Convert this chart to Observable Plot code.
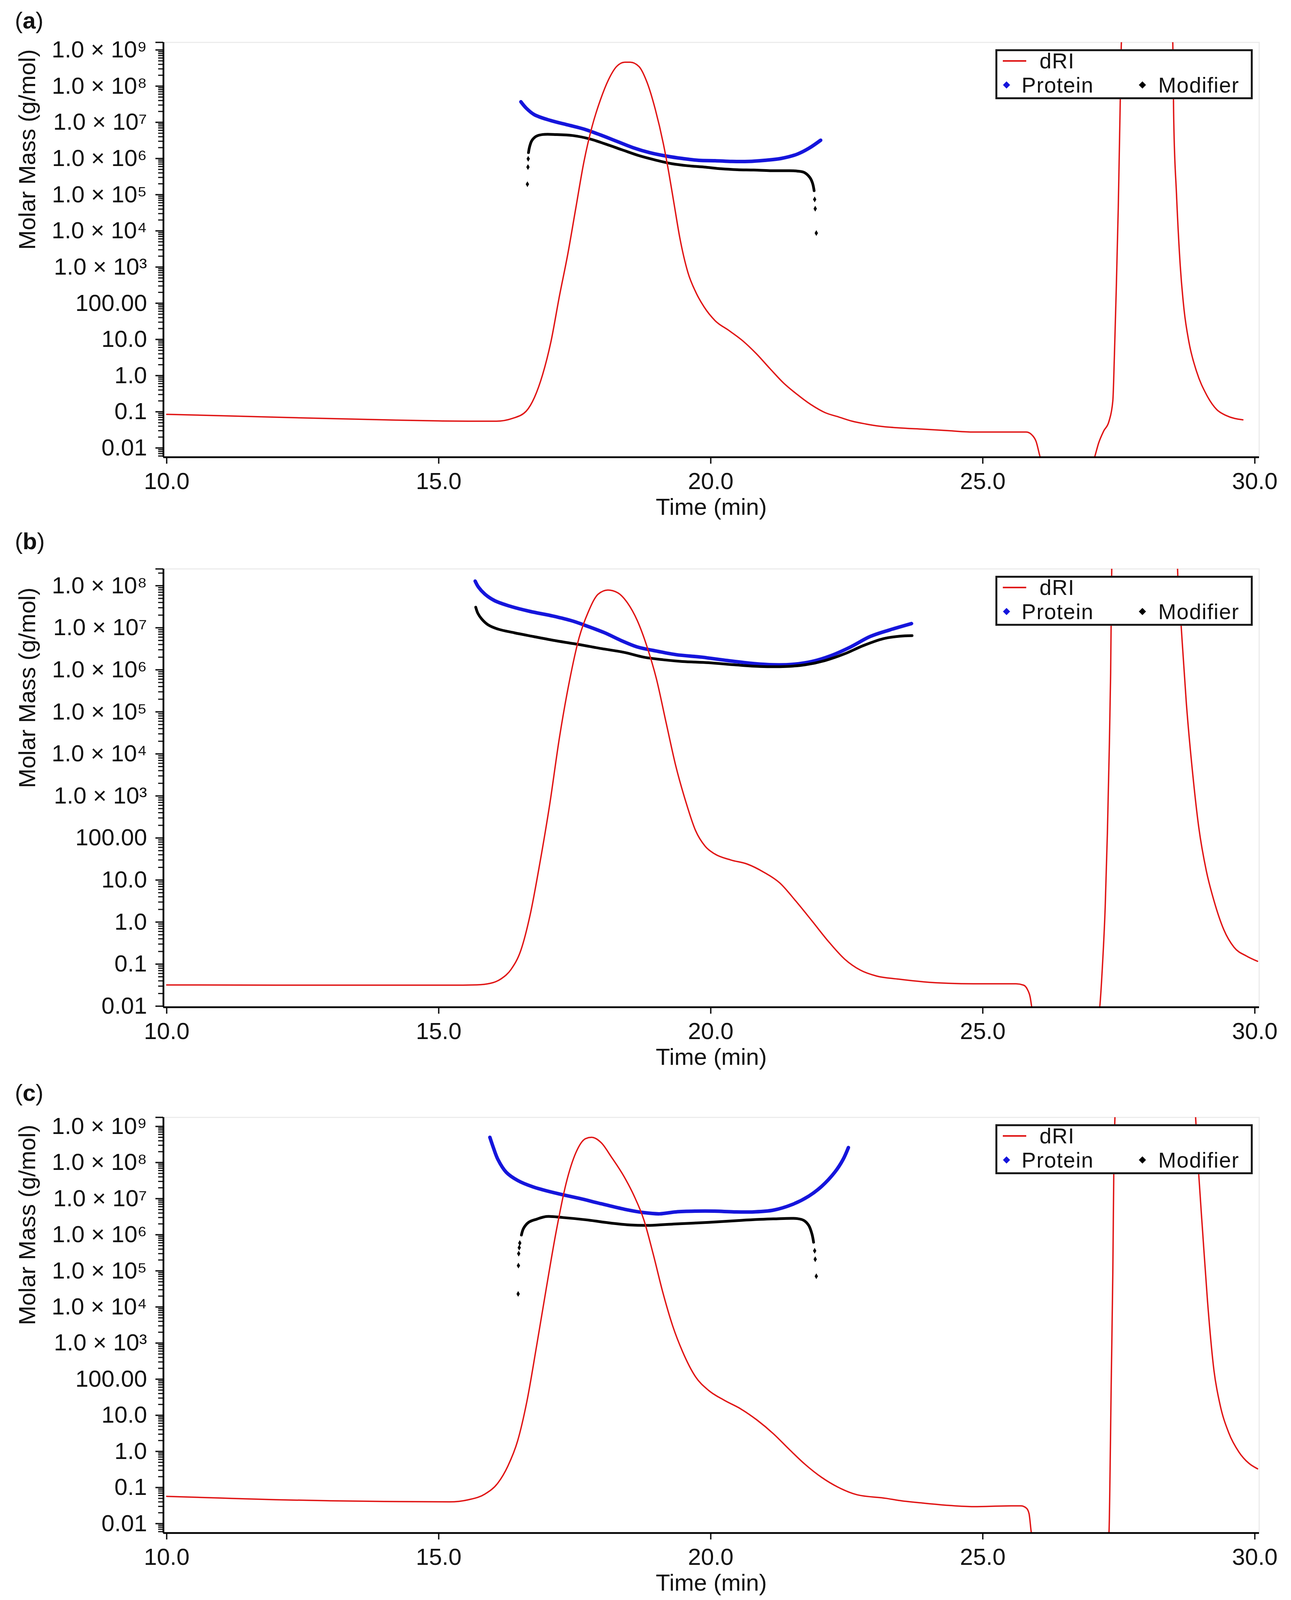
<!DOCTYPE html>
<html>
<head>
<meta charset="utf-8">
<script src="https://cdn.jsdelivr.net/npm/d3@7"></script>
<script src="https://cdn.jsdelivr.net/npm/@observablehq/plot@0.6"></script>
<style>
  html, body { margin: 0; padding: 0; background: #fff; overflow: hidden; }
  #page { position: relative; width: 3306px; height: 4096px; background: #fff; overflow: hidden;
          font-family: "Liberation Sans", Arial, sans-serif; color: #111; }
  .panel { position: absolute; left: 0; width: 3306px; }
  .tag { position: absolute; left: 38px; font-size: 60px; line-height: 60px; white-space: nowrap; }
  .tag b { font-weight: bold; }
  .legend { position: absolute; left: 2549px; width: 659px; height: 128px; box-sizing: border-box;
            border: 5px solid #1a1a1a; background: #fff; }
  .legend .txt { position: absolute; font-size: 55px; line-height: 55px; letter-spacing: 1.5px; white-space: nowrap; }
  .legend .ln { position: absolute; left: 14px; width: 60px; height: 4px; top: 23px; }
  .legend .dia { position: absolute; width: 13px; height: 13px; transform: rotate(45deg); }
</style>
</head>
<body>
<div id="page"></div>
<script>
// ---------------- data (time in min, value on the molar-mass log axis) ----------------
const X_TICKS = [10, 15, 20, 25, 30];
const X_TICK_LABELS = ["10.0", "15.0", "20.0", "25.0", "30.0"];
const Y_TICKS = [0.01, 0.1, 1, 10, 100, 1e3, 1e4, 1e5, 1e6, 1e7, 1e8, 1e9];
const Y_TICK_LABELS = ["0.01", "0.1", "1.0", "10.0", "100.00", "1.0 × 10³", "1.0 × 10⁴",
                       "1.0 × 10⁵", "1.0 × 10⁶", "1.0 × 10⁷", "1.0 × 10⁸", "1.0 × 10⁹"];
const SERIES = ["dRI", "Protein", "Modifier"];
const PANEL_TAGS = ["a", "b", "c"];

// Panel (a)
const dRI_a = [[10.0,0.085],[11.0,0.078],[12.0,0.071],[13.0,0.065],[14.0,0.060],[15.0,0.056],[15.55,0.055],
  [16.06,0.055],[16.36,0.066],[16.61,0.105],[16.76,0.25],[16.91,1.07],[17.06,8.3],[17.22,162],[17.37,2190],
  [17.52,4.3e4],[17.67,8.3e5],[17.82,7.8e6],[17.97,4.1e7],[18.12,1.5e8],[18.27,3.5e8],[18.42,4.6e8],[18.52,4.6e8],
  [18.68,3.5e8],[18.83,1.26e8],[18.98,2.3e7],[19.13,2.5e6],[19.23,4.0e5],[19.33,5.1e4],[19.43,6600],[19.58,710],
  [19.73,195],[19.88,78],[20.08,33],[20.34,17.4],[20.59,9.1],[20.84,4.0],[21.09,1.55],[21.34,0.62],[21.59,0.30],
  [21.85,0.155],[22.10,0.095],[22.35,0.072],[22.60,0.055],[22.85,0.046],[23.10,0.040],[23.45,0.036],[23.91,0.033],
  [24.37,0.030],[24.83,0.0275],[25.29,0.0275],[25.80,0.0275],[25.91,0.0224],[25.98,0.0151],[26.05,0.0059],
  [26.15,0.002],[26.95,0.002],[27.06,0.0059],[27.13,0.0138],[27.22,0.029],[27.32,0.055],[27.39,0.20],[27.42,4.0],
  [27.45,162],[27.49,4.3e4],[27.52,1.1e7],[27.55,2e9],[27.7,1e11],[28.3,1e11],[28.49,2e9],[28.51,1.1e7],
  [28.56,1.07e5],[28.63,1050],[28.70,65],[28.79,8.3],[28.93,1.29],[29.11,0.30],[29.30,0.115],[29.48,0.078],[29.78,0.060]];
const protein_a = [[16.51,3.7e7],[16.61,2.45e7],[16.76,1.62e7],[17.06,1.12e7],[17.37,8.5e6],[17.67,6.5e6],
  [17.97,4.5e6],[18.27,3.0e6],[18.57,2.0e6],[18.88,1.45e6],[19.18,1.17e6],[19.48,1.0e6],[19.78,8.9e5],[20.08,8.7e5],
  [20.39,8.3e5],[20.69,8.3e5],[20.99,8.9e5],[21.29,1.0e6],[21.59,1.32e6],[21.80,1.9e6],[22.02,3.2e6]];
const modifier_a = [[16.65,1.45e6],[16.67,2.1e6],[16.71,3.1e6],[16.79,4.1e6],[16.91,4.6e6],[17.16,4.6e6],
  [17.47,4.3e6],[17.77,3.5e6],[18.07,2.5e6],[18.37,1.74e6],[18.68,1.2e6],[18.98,9.1e5],[19.28,7.2e5],[19.58,6.3e5],
  [19.88,5.8e5],[20.19,5.2e5],[20.49,4.9e5],[20.79,4.8e5],[21.09,4.6e5],[21.39,4.6e5],[21.59,4.5e5],[21.72,4.1e5],
  [21.82,3.0e5],[21.87,2.1e5],[21.90,1.29e5]];
const modifierEnds_a = [[16.63,1.95e5],[16.64,5.8e5],[16.645,9.8e5],[21.91,7.4e4],[21.92,4.1e4],[21.94,8.7e3]];

// Panel (b)
const dRI_b = [[10.0,0.032],[12.0,0.0316],[14.0,0.0316],[15.20,0.0316],[15.70,0.0322],[15.95,0.035],[16.15,0.045],
  [16.33,0.075],[16.51,0.214],[16.68,1.48],[16.86,25.7],[17.04,630],[17.22,2.5e4],[17.40,5.2e5],[17.58,5.8e6],[17.75,2.4e7],
  [17.93,6.3e7],[18.11,7.9e7],[18.29,6.8e7],[18.47,3.9e7],[18.65,1.48e7],[18.83,3.5e6],[19.00,6.2e5],[19.18,5.5e4],
  [19.36,5000],[19.54,740],[19.72,151],[19.90,63],[20.07,42],[20.37,30],[20.67,24],[20.97,15.5],[21.27,8.5],
  [21.56,3.2],[21.86,1.07],[22.16,0.35],[22.46,0.132],[22.75,0.072],[23.05,0.052],[23.45,0.044],[23.91,0.038],
  [24.37,0.035],[24.83,0.034],[25.61,0.034],[25.75,0.0316],[25.82,0.025],[25.87,0.0166],[25.90,0.0095],
  [25.95,0.004],[27.10,0.004],[27.15,0.0095],[27.20,0.095],[27.25,2.3],[27.29,129],[27.32,6900],[27.35,8.3e5],
  [27.37,2.5e8],[27.42,1e10],[28.55,1e10],[28.58,2.5e8],[28.65,9.3e6],[28.74,1.7e5],[28.86,3200],[28.97,178],
  [29.11,16.2],[29.25,3.2],[29.43,0.66],[29.62,0.25],[29.85,0.155],[30.05,0.117]];
const protein_b = [[15.67,1.29e8],[15.73,9.3e7],[15.85,6.3e7],[16.03,4.4e7],[16.33,3.2e7],[16.68,2.45e7],
  [17.10,1.9e7],[17.46,1.45e7],[17.75,1.07e7],[18.05,7.6e6],[18.35,5.0e6],[18.65,3.5e6],[18.94,2.9e6],[19.36,2.3e6],
  [19.84,2.0e6],[20.31,1.66e6],[20.79,1.41e6],[21.15,1.32e6],[21.50,1.35e6],[21.86,1.58e6],[22.22,2.2e6],
  [22.57,3.5e6],[22.93,6.2e6],[23.29,8.9e6],[23.69,1.26e7]];
const modifier_b = [[15.68,3.1e7],[15.72,2.2e7],[15.79,1.62e7],[15.91,1.17e7],[16.09,9.3e6],[16.39,7.6e6],
  [16.74,6.2e6],[17.16,4.9e6],[17.58,4.0e6],[17.99,3.2e6],[18.41,2.6e6],[18.77,2.0e6],[19.12,1.74e6],[19.48,1.58e6],
  [19.96,1.48e6],[20.43,1.32e6],[20.91,1.2e6],[21.38,1.2e6],[21.74,1.32e6],[22.10,1.66e6],[22.46,2.4e6],
  [22.81,3.8e6],[23.17,5.5e6],[23.47,6.3e6],[23.70,6.5e6]];
const modifierEnds_b = [];

// Panel (c)
const dRI_c = [[10.0,0.057],[11.0,0.051],[12.0,0.046],[13.0,0.043],[14.0,0.041],[15.20,0.040],[15.55,0.046],
  [15.85,0.066],[16.09,0.135],[16.27,0.39],[16.45,1.95],[16.62,24],[16.80,850],[16.98,3.5e4],[17.16,1.26e6],
  [17.34,2.6e7],[17.52,1.86e8],[17.70,4.6e8],[17.81,5.0e8],[17.99,3.5e8],[18.17,1.45e8],[18.41,4.0e7],[18.59,1.2e7],
  [18.77,2.6e6],[18.94,3.0e5],[19.12,2.5e4],[19.30,3000],[19.48,590],[19.72,117],[19.96,49],[20.25,26],[20.55,15.1],
  [20.85,7.4],[21.15,3.1],[21.44,1.15],[21.74,0.43],[22.04,0.19],[22.34,0.102],[22.69,0.063],[23.23,0.050],
  [23.45,0.044],[23.91,0.037],[24.37,0.032],[24.83,0.0295],[25.52,0.031],[25.70,0.031],[25.80,0.027],[25.85,0.019],
  [25.89,0.0059],[25.95,0.002],[27.28,0.002],[27.32,0.0059],[27.34,0.33],[27.36,69],[27.39,8.7e4],[27.41,1.1e8],
  [27.43,2e9],[27.5,1e11],[28.85,1e11],[28.91,2e9],[28.97,4.5e7],[29.04,1.26e6],[29.13,1.48e4],[29.25,170],
  [29.36,20],[29.52,3.3],[29.71,0.95],[29.89,0.47],[30.05,0.33]];
const protein_c = [[15.94,5.0e8],[16.00,2.7e8],[16.09,1.2e8],[16.24,5.4e7],[16.45,3.2e7],[16.74,2.1e7],
  [17.16,1.41e7],[17.58,1.02e7],[17.99,7.2e6],[18.41,5.1e6],[18.77,4.1e6],[19.06,3.8e6],[19.36,4.3e6],[19.72,4.5e6],
  [20.07,4.5e6],[20.43,4.3e6],[20.79,4.3e6],[21.15,4.8e6],[21.50,6.9e6],[21.80,1.17e7],[22.04,2.2e7],[22.28,5.4e7],
  [22.43,1.2e8],[22.53,2.6e8]];
const modifier_c = [[16.52,9.8e5],[16.56,1.51e6],[16.65,2.2e6],[16.80,2.7e6],[16.98,3.2e6],[17.28,3.0e6],
  [17.70,2.6e6],[18.17,2.1e6],[18.53,1.86e6],[18.88,1.82e6],[19.36,2.0e6],[19.96,2.2e6],[20.55,2.5e6],[21.15,2.75e6],
  [21.59,2.8e6],[21.71,2.5e6],[21.80,1.82e6],[21.86,1.05e6],[21.89,6.2e5]];
const modifierEnds_c = [[16.46,2.3e4],[16.465,1.4e5],[16.47,3.0e5],[16.48,4.4e5],[16.49,5.9e5],
  [21.91,3.6e5],[21.92,2.1e5],[21.94,7.1e4]];

// ---------------- layout / style ----------------
// The browser window is capped at 4096 px high, so the 3306×4893 figure is laid out
// with all vertical positions scaled to that height (horizontal positions unchanged).
const RED = "#e01414", BLUE = "#1515dc", BLACK = "#000";
const X_DOMAIN = [9.94, 30.08];
const FONT = "Liberation Sans, Arial, sans-serif";
const FS = 60;

const panels = [
  {tag: PANEL_TAGS[0], top: 0,    height: 1373, marginTop: 108, marginBottom: 203, yDomain: [0.00555, 1.62e9],
   tagTop: 23,   dri: dRI_a, prot: protein_a, mod: modifier_a, ends: modifierEnds_a},
  {tag: PANEL_TAGS[1], top: 1373, height: 1373, marginTop: 83,  marginBottom: 168, yDomain: [0.00944, 2.51e8],
   tagTop: 1356, dri: dRI_b, prot: protein_b, mod: modifier_b, ends: modifierEnds_b},
  {tag: PANEL_TAGS[2], top: 2746, height: 1350, marginTop: 114, marginBottom: 172, yDomain: [0.0055, 1.78e9],
   tagTop: 2768, dri: dRI_c, prot: protein_c, mod: modifier_c, ends: modifierEnds_c}
];

const toObj = arr => arr.map(([t, v]) => ({t, v}));
const yLabel = new Map(Y_TICKS.map((d, i) => [d, Y_TICK_LABELS[i]]));
const xLabel = new Map(X_TICKS.map((d, i) => [d, X_TICK_LABELS[i]]));

function minorTicks([lo, hi]) {
  const out = [];
  for (let e = -3; e <= 9; e++) for (let k = 2; k <= 9; k++) {
    const v = k * Math.pow(10, e);
    if (v >= lo && v <= hi) out.push(v);
  }
  return out;
}

const page = document.getElementById("page");

for (const p of panels) {
  const yTicks = Y_TICKS.filter(d => d >= p.yDomain[0] && d <= p.yDomain[1]);
  const chart = Plot.plot({
    width: 3306,
    height: p.height,
    marginLeft: 418,
    marginRight: 82,
    marginTop: p.marginTop,
    marginBottom: p.marginBottom,
    style: {fontFamily: FONT, fontSize: FS + "px", color: "#111", background: "#fff", overflow: "visible"},
    x: {domain: X_DOMAIN},
    y: {type: "log", domain: p.yDomain},
    marks: [
      Plot.frame({stroke: "#ececec", strokeWidth: 3}),
      Plot.line(toObj(p.prot), {x: "t", y: "v", stroke: BLUE, strokeWidth: 9, curve: "catmull-rom", clip: true}),
      Plot.line(toObj(p.mod), {x: "t", y: "v", stroke: BLACK, strokeWidth: 7, curve: "catmull-rom", clip: true}),
      Plot.dot(toObj(p.ends), {x: "t", y: "v", fill: BLACK, stroke: "none", r: 4.5, symbol: "diamond", clip: true}),
      Plot.line(toObj(p.dri), {x: "t", y: "v", stroke: RED, strokeWidth: 3.5, curve: "monotone-x", clip: true}),
      // axes
      Plot.axisY(minorTicks(p.yDomain), {tickSize: 13, strokeWidth: 3, tickFormat: () => "", label: null}),
      Plot.axisY([p.yDomain[1]], {tickSize: 20, strokeWidth: 3.5, tickFormat: () => "", label: null}),
      Plot.axisY(yTicks, {tickSize: 20, tickPadding: 22, strokeWidth: 3.5, tickFormat: d => yLabel.get(d),
                          fontSize: FS, fontFamily: FONT, fill: "#111", label: null}),
      Plot.axisX(X_TICKS, {tickSize: 17, tickPadding: 22, strokeWidth: 3.5, tickFormat: d => xLabel.get(d),
                          fontSize: FS, fontFamily: FONT, fill: "#111", label: null}),
      Plot.ruleX([X_DOMAIN[0]], {stroke: BLACK, strokeWidth: 4.5}),
      Plot.ruleY([p.yDomain[0]], {stroke: BLACK, strokeWidth: 4.5}),
      Plot.text(["Time (min)"], {text: d => d, frameAnchor: "bottom", dy: 128, fontSize: FS, fontFamily: FONT,
                                 fill: "#111", lineAnchor: "middle"}),
      Plot.text(["Molar Mass (g/mol)"], {text: d => d, frameAnchor: "left", dx: -348, rotate: -90, fontSize: FS,
                                         fontFamily: FONT, fill: "#111", lineAnchor: "middle"})
    ]
  });
  chart.style.maxWidth = "none";
  chart.style.display = "block";

  const div = document.createElement("div");
  div.className = "panel";
  div.style.top = p.top + "px";
  div.style.height = p.height + "px";
  div.appendChild(chart);
  page.appendChild(div);

  const tag = document.createElement("div");
  tag.className = "tag";
  tag.style.top = p.tagTop + "px";
  tag.innerHTML = "(<b>" + p.tag + "</b>)";
  page.appendChild(tag);

  const lg = document.createElement("div");
  lg.className = "legend";
  lg.style.top = (p.top + p.marginTop + 18) + "px";
  lg.innerHTML =
    `<div class="ln" style="background:${RED}"></div>` +
    `<div class="txt" style="left:108px; top:-2px">${SERIES[0]}</div>` +
    `<div class="dia" style="left:17px; top:80px; background:${BLUE}"></div>` +
    `<div class="txt" style="left:62px; top:60px">${SERIES[1]}</div>` +
    `<div class="dia" style="left:365px; top:80px; background:${BLACK}"></div>` +
    `<div class="txt" style="left:412px; top:60px">${SERIES[2]}</div>`;
  page.appendChild(lg);
}
</script>
</body>
</html>
